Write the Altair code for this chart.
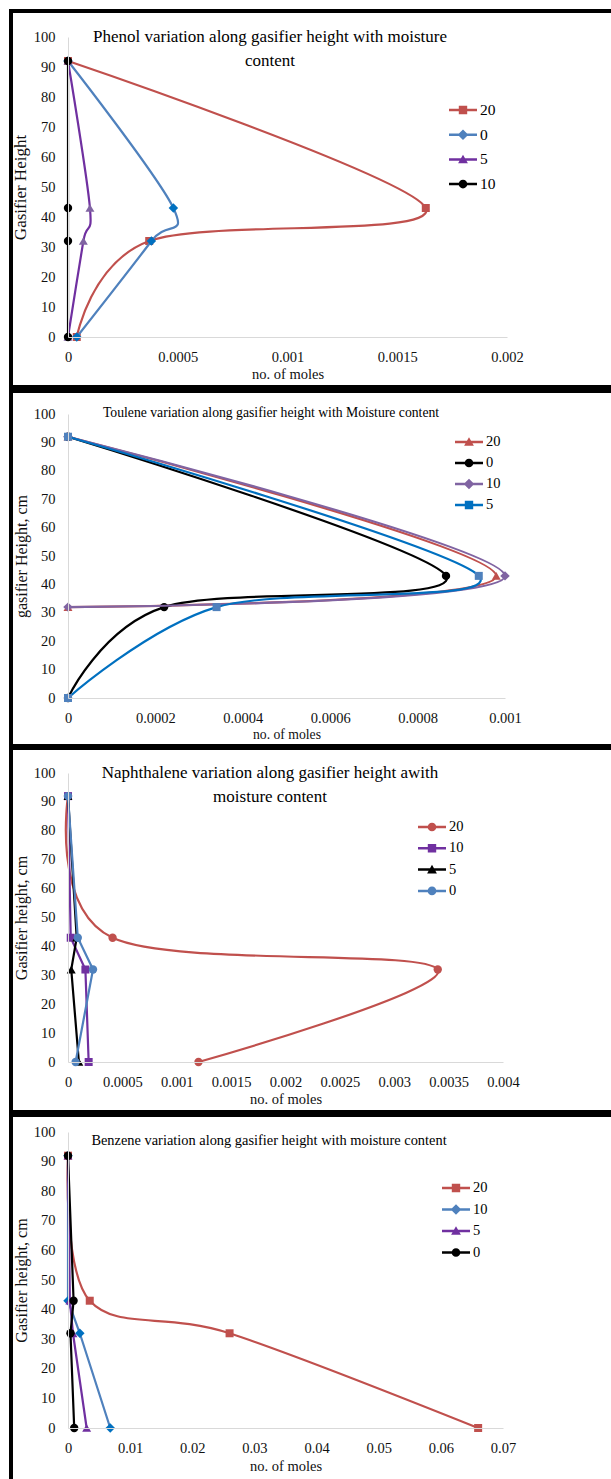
import altair as alt
import pandas as pd

SERIF = "Liberation Serif"

# ---------------- data ----------------
heights = [0, 32, 43, 92]
heights_upper = [32, 43, 92]

# Phenol
phenol_series = ["20", "0", "5", "10"]
phenol_20 = [0.00004, 0.00037, 0.00163, 0.0]
phenol_0 = [0.00004, 0.00038, 0.00048, 0.0]
phenol_5 = [0.0, 0.00007, 0.0001, 0.0]
phenol_10 = [0.0, 0.0, 0.0, 0.0]
phenol_ticks = [0, 0.0005, 0.001, 0.0015, 0.002]

# Toluene
toluene_series = ["20", "0", "10", "5"]
toluene_20 = [0.0, 0.00098, 0.0]          # heights_upper
toluene_0 = [0.0, 0.00022, 0.000865, 0.0]
toluene_10 = [0.0, 0.001, 0.0]            # heights_upper
toluene_5 = [0.0, 0.00034, 0.00094, 0.0]
toluene_ticks = [0, 0.0002, 0.0004, 0.0006, 0.0008, 0.001]

# Naphthalene
naph_series = ["20", "10", "5", "0"]
naph_20 = [0.0012, 0.0034, 0.00041, 0.0]
naph_10 = [0.00019, 0.00016, 0.000025, 0.0]
naph_5 = [0.0001, 0.00003, 0.00008, 0.0]
naph_0 = [0.00007, 0.00023, 0.00009, 0.0]
naph_ticks = [0, 0.0005, 0.001, 0.0015, 0.002, 0.0025, 0.003, 0.0035, 0.004]

# Benzene
benz_series = ["20", "10", "5", "0"]
benz_20 = [0.066, 0.026, 0.0035, 0.0]
benz_10 = [0.0068, 0.0019, 0.0, 0.0]
benz_5 = [0.003, 0.0008, 0.0003, 0.0]
benz_0 = [0.001, 0.0004, 0.0009, 0.0]
benz_ticks = [0, 0.01, 0.02, 0.03, 0.04, 0.05, 0.06, 0.07]

y_ticks = [0, 10, 20, 30, 40, 50, 60, 70, 80, 90, 100]

# ---------------- styles ----------------
RED = "#C0504D"
BLUE = "#4F81BD"
DBLUE = "#0070C0"
PURPLE = "#7030A0"
LPURPLE = "#8064A2"
BLACK = "#000000"

LINE_PATH = "M-1,-0.09H1V0.09H-1Z"
LEG_SHAPES = {
    "square": LINE_PATH + " M-0.3,-0.3H0.3V0.3H-0.3Z",
    "diamond": LINE_PATH + " M0,-0.38L0.38,0L0,0.38L-0.38,0Z",
    "triangle-up": LINE_PATH + " M0,-0.34L0.35,0.27L-0.35,0.27Z",
    "circle": LINE_PATH + " M-0.31,0A0.31,0.31 0 1,1 0.31,0A0.31,0.31 0 1,1 -0.31,0Z",
}
MARK_SIZE = {"square": 64, "diamond": 90, "triangle-up": 80, "circle": 70}


def panel(cfg):
    w, h = cfg["w"], cfg["h"]
    xs = alt.Scale(domain=[0, cfg["xmax"]], nice=False, zero=True)
    ys = alt.Scale(domain=[0, 100], nice=False)
    xaxis = alt.Axis(values=cfg["xticks"], format="~g", title="no. of moles",
                     labelFlush=False, labelOverlap=False, labelBound=False, zindex=1,
                     titlePadding=cfg["xtp"], titleFontSize=cfg["xtfs"])
    yaxis = alt.Axis(values=y_ticks, title=cfg["ytitle"], labelOverlap=False, zindex=1,
                     titlePadding=cfg["ytp"], titleFontSize=cfg["ytfs"])
    one = pd.DataFrame({"k": [0]})
    bl, br, bt, bb = cfg["box"]
    layers = [
        alt.Chart(one).mark_rect(color="black").encode(
            x=alt.value(bl), x2=alt.value(br), y=alt.value(bt), y2=alt.value(bb)),
        alt.Chart(one).mark_rect(color="white").encode(
            x=alt.value(bl + 4), x2=alt.value(br),
            y=alt.value(bt + cfg["top_border"]), y2=alt.value(bb - cfg["bottom_border"])),
    ]
    for s in cfg["series"]:
        df = pd.DataFrame({"h": s["h"], "x": s["x"]})
        base = alt.Chart(df).encode(
            x=alt.X("x:Q", scale=xs, axis=xaxis),
            y=alt.Y("h:Q", scale=ys, axis=yaxis),
            order=alt.Order("h:Q"),
        )
        layers.append(base.mark_line(color=s["line"], strokeWidth=2.2,
                                     interpolate=s["interp"]))
        layers.append(base.mark_point(shape=s["shape"], filled=True, opacity=1,
                                      size=MARK_SIZE[s["shape"]], color=s["marker"]))
    layers.append(
        alt.Chart(one).mark_text(text=cfg["title"], font=SERIF, fontSize=cfg["tfs"],
                                 lineHeight=cfg["tlh"], align="center", baseline="top",
                                 color="black")
        .encode(x=alt.value(cfg["tx"]), y=alt.value(cfg["ty"]))
    )
    names = [s["name"] for s in cfg["series"]]
    leg = alt.Legend(title=None, orient="none", legendX=cfg["legx"], legendY=cfg["legy"],
                     symbolSize=784, symbolStrokeWidth=0, labelFont=SERIF,
                     labelFontSize=cfg["legfs"], labelColor="black", labelOffset=3,
                     rowPadding=cfg["legrp"], padding=0)
    layers.append(
        alt.Chart(pd.DataFrame({"series": names})).mark_point(filled=True, opacity=1)
        .encode(
            color=alt.Color("series:N", legend=leg,
                            scale=alt.Scale(domain=names, range=[s["line"] for s in cfg["series"]])),
            shape=alt.Shape("series:N", legend=leg,
                            scale=alt.Scale(domain=names, range=[LEG_SHAPES[s["shape"]] for s in cfg["series"]])),
        )
        .transform_filter("false")
    )
    return alt.layer(*layers).properties(width=w, height=h)


def ser(name, hs, xs, line, marker, shape, interp):
    return {"name": name, "h": hs, "x": xs, "line": line, "marker": marker,
            "shape": shape, "interp": interp}


p1 = panel({
    "w": 439, "h": 300, "xmax": 0.002, "xticks": phenol_ticks,
    "ytitle": "Gasifier Height", "xtp": 4, "xtfs": 14.5, "ytp": 4, "ytfs": 17,
    "box": (-59, 543, -28, 352), "top_border": 4, "bottom_border": 4,
    "title": ["Phenol variation along gasifier height with moisture", "content"],
    "tfs": 17, "tlh": 24, "tx": 202, "ty": -8,
    "legx": 381, "legy": 59, "legfs": 15.5, "legrp": 1.7,
    "series": [
        ser(phenol_series[0], heights, phenol_20, RED, RED, "square", "cardinal"),
        ser(phenol_series[1], heights, phenol_0, BLUE, DBLUE, "diamond", "cardinal"),
        ser(phenol_series[2], heights, phenol_5, PURPLE, LPURPLE, "triangle-up", "cardinal"),
        ser(phenol_series[3], heights, phenol_10, BLACK, BLACK, "circle", "linear"),
    ],
})

p2 = panel({
    "w": 437, "h": 284, "xmax": 0.001, "xticks": toluene_ticks,
    "ytitle": "gasifier Height, cm", "xtp": 3, "xtfs": 13.7, "ytp": 4, "ytfs": 16,
    "box": (-59, 543, -25, 333), "top_border": 4, "bottom_border": 3,
    "title": ["Toulene variation along gasifier height with Moisture content"],
    "tfs": 13.7, "tlh": 18, "tx": 203, "ty": -8,
    "legx": 387, "legy": 14, "legfs": 14.5, "legrp": 0,
    "series": [
        ser(toluene_series[0], heights_upper, toluene_20, RED, RED, "triangle-up", "cardinal"),
        ser(toluene_series[1], heights, toluene_0, BLACK, BLACK, "circle", "cardinal"),
        ser(toluene_series[2], heights_upper, toluene_10, LPURPLE, LPURPLE, "diamond", "cardinal"),
        ser(toluene_series[3], heights, toluene_5, DBLUE, BLUE, "square", "cardinal"),
    ],
})

p3 = panel({
    "w": 435, "h": 289, "xmax": 0.004, "xticks": naph_ticks,
    "ytitle": "Gasifier height, cm", "xtp": 4, "xtfs": 14.5, "ytp": 4, "ytfs": 16.2,
    "box": (-59, 543, -26, 340), "top_border": 3, "bottom_border": 3,
    "title": ["Naphthalene variation along gasifier  height awith", "moisture content"],
    "tfs": 17, "tlh": 24, "tx": 202, "ty": -8,
    "legx": 350, "legy": 40, "legfs": 14.5, "legrp": 0.3,
    "series": [
        ser(naph_series[0], heights, naph_20, RED, RED, "circle", "cardinal"),
        ser(naph_series[1], heights, naph_10, PURPLE, PURPLE, "square", "linear"),
        ser(naph_series[2], heights, naph_5, BLACK, BLACK, "triangle-up", "linear"),
        ser(naph_series[3], heights, naph_0, BLUE, BLUE, "circle", "linear"),
    ],
})

p4 = panel({
    "w": 435, "h": 296, "xmax": 0.07, "xticks": benz_ticks,
    "ytitle": "Gasifier height, cm", "xtp": 5, "xtfs": 14.5, "ytp": 4, "ytfs": 16.2,
    "box": (-59, 543, -19, 347), "top_border": 4, "bottom_border": 0,
    "title": ["Benzene variation along gasifier height with moisture content"],
    "tfs": 14.4, "tlh": 18, "tx": 201, "ty": 1.5,
    "legx": 374, "legy": 42, "legfs": 14.5, "legrp": 0.5,
    "series": [
        ser(benz_series[0], heights, benz_20, RED, RED, "square", "cardinal"),
        ser(benz_series[1], heights, benz_10, BLUE, DBLUE, "diamond", "linear"),
        ser(benz_series[2], heights, benz_5, PURPLE, PURPLE, "triangle-up", "linear"),
        ser(benz_series[3], heights, benz_0, BLACK, BLACK, "circle", "linear"),
    ],
})

chart = (
    alt.vconcat(p1, p2, p3, p4, spacing=0, bounds="full")
    .resolve_scale(color="independent", shape="independent")
    .resolve_legend(color="independent", shape="independent")
    .properties(padding={"left": 9, "top": 9, "right": 0, "bottom": 0}, background="white")
    .configure_view(strokeWidth=0)
    .configure_axis(
        grid=False, ticks=False, tickSize=0, domainColor="#D9D9D9", domainWidth=1,
        labelFont=SERIF, labelFontSize=14.5, labelColor="#111111", labelPadding=13,
        titleFont=SERIF, titleFontWeight="normal", titleColor="#111111",
    )
)

chart.save("out.html", embed_options={"renderer": "svg", "actions": False})
